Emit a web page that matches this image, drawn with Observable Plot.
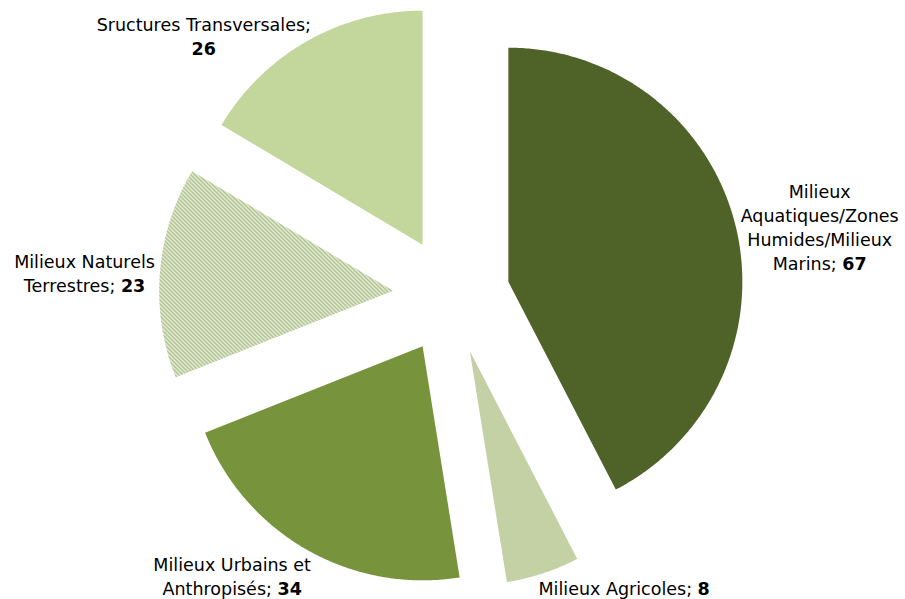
<!DOCTYPE html>
<html>
<head>
<meta charset="utf-8">
<script src="https://cdn.jsdelivr.net/npm/d3@7"></script>
<script src="https://cdn.jsdelivr.net/npm/@observablehq/plot@0.6"></script>
<style>
  html, body { margin: 0; padding: 0; background: #fff; }
  #chart { width: 905px; height: 599px; }
</style>
</head>
<body>
<svg width="0" height="0" style="position:absolute">
  <defs>
    <pattern id="dots" width="2" height="2" patternUnits="userSpaceOnUse">
      <rect width="2" height="2" fill="#EEF3E2"/>
      <rect x="0" y="0" width="1" height="1" fill="#97AE68"/>
      <rect x="1" y="1" width="1" height="1" fill="#97AE68"/>
    </pattern>
    <pattern id="hatch" width="4" height="4" patternUnits="userSpaceOnUse">
      <rect width="4" height="4" fill="#F1F5E8"/>
      <path d="M-1,3 l2,2 M0,0 l4,4 M3,-1 l2,2" stroke="#90AA63" stroke-width="1.2"/>
    </pattern>
  </defs>
</svg>
<div id="chart"></div>
<script>
// ---- data ----
const categories = [
  "Milieux Aquatiques/Zones Humides/Milieux Marins",
  "Milieux Agricoles",
  "Milieux Urbains et Anthropisés",
  "Milieux Naturels Terrestres",
  "Sructures Transversales"
];
const values = [67, 8, 34, 23, 26];
const labelTexts = [
  "Milieux\nAquatiques/Zones\nHumides/Milieux\nMarins;",
  "Milieux Agricoles;",
  "Milieux Urbains et\nAnthropisés;",
  "Milieux Naturels\nTerrestres;",
  "Sructures Transversales;\n"
];
const fills = ["#4F6228", "url(#dots)", "#77933C", "url(#hatch)", "#C3D69B"];

// ---- layout ----
const W = 905, H = 599;
const CX = 451, CY = 295, R = 234;   // pie centre & radius in px
const EXPLODE = 0.25;                // explosion as fraction of radius
const FONT = "'DejaVu Sans', sans-serif";
const FS = 17.5, LH = 24;

const total = d3.sum(values);
let acc = 0;
const slices = values.map((v, i) => {
  const a0 = acc / total * 2 * Math.PI; acc += v;
  const a1 = acc / total * 2 * Math.PI;
  const mid = (a0 + a1) / 2;
  return {i, v, a0, a1, mid, dx: Math.sin(mid), dy: -Math.cos(mid)};
});

// slice polygons in unit (radius = 1) coordinates, y downward
const pts = [];
for (const s of slices) {
  const ox = EXPLODE * s.dx, oy = EXPLODE * s.dy;
  pts.push({slice: categories[s.i], fill: fills[s.i], x: ox, y: oy});
  const n = Math.max(4, Math.ceil((s.a1 - s.a0) / (Math.PI / 360)));
  for (let k = 0; k <= n; k++) {
    const a = s.a0 + (s.a1 - s.a0) * k / n;
    pts.push({slice: categories[s.i], fill: fills[s.i], x: ox + Math.sin(a), y: oy - Math.cos(a)});
  }
}

// labels
const ctx = document.createElement("canvas").getContext("2d");
ctx.font = `${FS}px ${FONT}`;
const labels = slices.map(s => {
  const t = labelTexts[s.i];
  const text = t.endsWith("\n") ? t + s.v : t + " " + s.v;
  const lines = text.split("\n");
  const w = d3.max(lines, l => ctx.measureText(l).width);
  const h = lines.length * LH;
  const ox = CX + (1 + EXPLODE) * R * s.dx, oy = CY + (1 + EXPLODE) * R * s.dy;
  const sx = Math.sign(s.dx);
  let px, py;
  if (Math.abs(s.dy) < 0.5) {
    px = ox + sx * (5 + w / 2);
    py = oy;
  } else {
    px = ox + sx * (w / 2 - 4);
    py = s.dy > 0 ? oy + 4 + h / 2 : oy - 4 - h / 2;
  }
  px = Math.max(6 + w / 2, Math.min(W - 4 - w / 2, px));
  py = Math.max(11 + h / 2, Math.min(H - h / 2, py));
  return {text, value: s.v, x: (px - CX) / R, y: (py - CY) / R};
});

const chart = Plot.plot({
  width: W, height: H, margin: 0,
  x: {domain: [-CX / R, (W - CX) / R], range: [0, W], axis: null},
  y: {domain: [-CY / R, (H - CY) / R], range: [0, H], axis: null},
  color: {type: "identity"},
  style: {fontFamily: FONT, background: "#fff"},
  marks: [
    Plot.line(pts, {x: "x", y: "y", z: "slice", fill: "fill", stroke: null, curve: "linear-closed"}),
    Plot.text(labels, {x: "x", y: "y", text: "text", fontSize: FS, lineHeight: LH / FS,
      textAnchor: "middle", lineAnchor: "middle", fill: "#000"})
  ]
});
document.getElementById("chart").appendChild(chart);

// bold the numeric values in labels
const vals = new Set(values.map(String));
chart.querySelectorAll("text, tspan").forEach(node => {
  if (node.childNodes.length !== 1 || node.firstChild.nodeType !== 3) return;
  const s = node.textContent;
  const m = s.match(/^(.*?)(\d+)$/);
  if (!m || !vals.has(m[2])) return;
  node.textContent = m[1];
  const b = document.createElementNS("http://www.w3.org/2000/svg", "tspan");
  b.setAttribute("font-weight", "bold");
  b.textContent = m[2];
  node.appendChild(b);
});
</script>
</body>
</html>
